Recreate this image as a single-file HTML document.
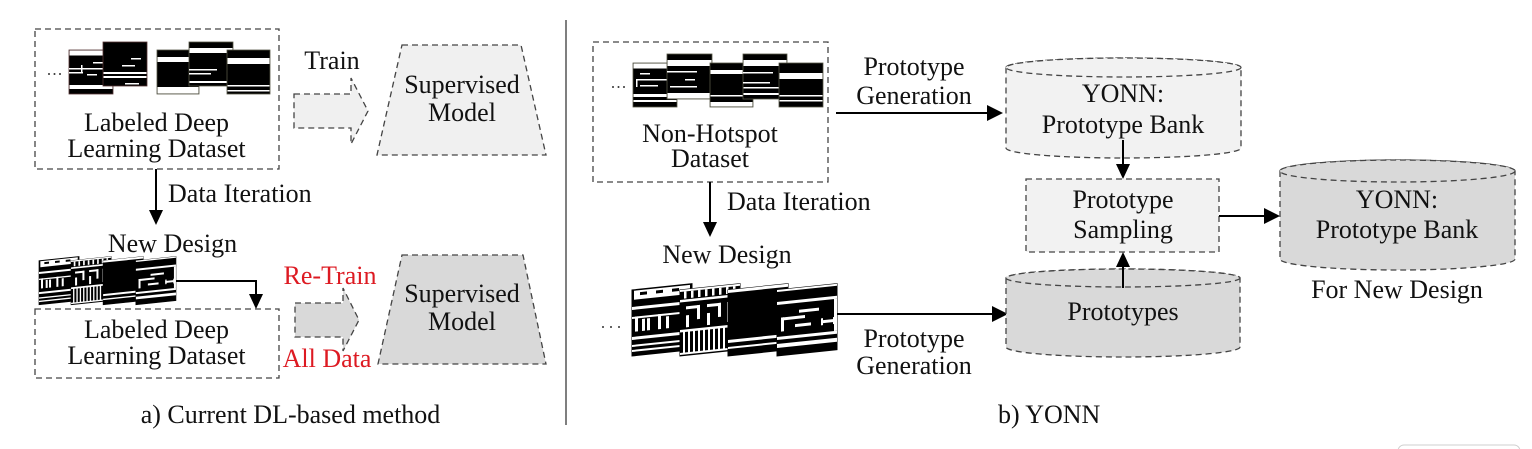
<!DOCTYPE html>
<html>
<head>
<meta charset="utf-8">
<style>
html,body{margin:0;padding:0;background:#fff;}
svg{display:block;}
text{font-family:"Liberation Serif","Times New Roman",serif;font-size:26px;fill:#111;}
.d{fill:none;stroke:#444;stroke-width:1.3;stroke-dasharray:6 4;}
.a{stroke:#000;stroke-width:2;fill:none;}
.h{fill:#000;}
.w{fill:#fff;}
.k{fill:#000;}
</style>
</head>
<body>
<svg width="1532" height="449" viewBox="0 0 1532 449" xmlns="http://www.w3.org/2000/svg">
<defs>
  <g id="nd">
    <!-- panel 1 -->
    <g transform="translate(0,7) skewY(-6)">
      <rect width="60" height="66" fill="#000" stroke="#000" stroke-width="1"/>
      <rect class="w" x="2" y="1" width="56" height="9"/>
      <rect class="k" x="8" y="3" width="7" height="3"/>
      <rect class="k" x="24" y="3" width="7" height="3"/>
      <rect class="k" x="40" y="3" width="7" height="3"/>
      <rect class="w" x="0" y="17" width="60" height="3"/>
      <rect class="w" x="0" y="27" width="60" height="2"/>
      <rect class="w" x="3" y="27" width="3" height="15"/>
      <rect class="w" x="10" y="30" width="3" height="12"/>
      <rect class="w" x="15" y="30" width="3" height="12"/>
      <rect class="w" x="26" y="27" width="3" height="15"/>
      <rect class="w" x="34" y="30" width="3" height="12"/>
      <rect class="w" x="48" y="27" width="3" height="15"/>
      <rect class="w" x="0" y="47" width="60" height="3"/>
      <rect class="w" x="0" y="55" width="60" height="2"/>
      <rect class="w" x="0" y="60" width="60" height="2"/>
    </g>
    <!-- panel 2 -->
    <g transform="translate(48,7) skewY(-6)">
      <rect width="60" height="66" fill="#000" stroke="#000" stroke-width="1"/>
      <rect class="w" x="0" y="0" width="60" height="2"/>
      <rect class="w" x="4" y="2" width="2.5" height="7"/>
      <rect class="w" x="11" y="2" width="2.5" height="7"/>
      <rect class="w" x="18" y="2" width="2.5" height="7"/>
      <rect class="w" x="25" y="2" width="2.5" height="7"/>
      <rect class="w" x="32" y="2" width="2.5" height="7"/>
      <rect class="w" x="39" y="2" width="2.5" height="7"/>
      <rect class="w" x="46" y="2" width="2.5" height="7"/>
      <rect class="w" x="53" y="2" width="2.5" height="7"/>
      <rect class="w" x="0" y="10" width="60" height="2.5"/>
      <rect class="w" x="6" y="17" width="14" height="3"/>
      <rect class="w" x="17" y="17" width="3" height="14"/>
      <rect class="w" x="6" y="26" width="3" height="12"/>
      <rect class="w" x="27" y="17" width="14" height="3"/>
      <rect class="w" x="38" y="17" width="3" height="14"/>
      <rect class="w" x="27" y="26" width="3" height="12"/>
      <rect class="w" x="47" y="17" width="3" height="20"/>
      <rect class="w" x="0" y="40" width="60" height="2.5"/>
      <rect class="w" x="3" y="42" width="2" height="22"/>
      <rect class="w" x="8" y="42" width="2" height="22"/>
      <rect class="w" x="13" y="42" width="2" height="22"/>
      <rect class="w" x="18" y="42" width="2" height="22"/>
      <rect class="w" x="23" y="42" width="2" height="22"/>
      <rect class="w" x="28" y="42" width="2" height="22"/>
      <rect class="w" x="33" y="42" width="2" height="22"/>
      <rect class="w" x="38" y="42" width="2" height="22"/>
      <rect class="w" x="43" y="42" width="2" height="22"/>
      <rect class="w" x="48" y="42" width="2" height="22"/>
      <rect class="w" x="53" y="42" width="2" height="22"/>
      <rect class="w" x="0" y="63" width="60" height="2"/>
    </g>
    <!-- panel 3 -->
    <g transform="translate(96,7) skewY(-6)">
      <rect width="60" height="66" fill="#000" stroke="#000" stroke-width="1"/>
      <rect class="w" x="0" y="0" width="60" height="3"/>
      <rect class="w" x="0" y="50" width="60" height="3"/>
      <rect class="w" x="0" y="57" width="60" height="2"/>
    </g>
    <!-- panel 4 -->
    <g transform="translate(145,7) skewY(-6)">
      <rect width="60" height="66" fill="#000" stroke="#000" stroke-width="1"/>
      <rect class="w" x="0" y="0" width="60" height="2"/>
      <rect class="w" x="0" y="12" width="60" height="3"/>
      <rect class="w" x="4" y="28" width="24" height="3"/>
      <rect class="w" x="4" y="28" width="3" height="14"/>
      <rect class="w" x="22" y="22" width="20" height="3"/>
      <rect class="w" x="18" y="36" width="16" height="3"/>
      <rect class="w" x="44" y="35" width="14" height="3"/>
      <rect class="w" x="44" y="33" width="2" height="7"/>
      <rect class="w" x="56" y="33" width="2" height="7"/>
      <rect class="w" x="0" y="47" width="60" height="3"/>
      <rect class="w" x="0" y="54" width="60" height="4"/>
      <rect class="w" x="57" y="15" width="3" height="32"/>
    </g>
  </g>
</defs>

<rect x="0" y="0" width="1532" height="449" fill="#fff"/>

<!-- ===== LEFT PANEL ===== -->
<rect class="d" x="35" y="29" width="244" height="140"/>
<circle cx="49" cy="74" r="1" fill="#333"/><circle cx="54.5" cy="74" r="1" fill="#333"/><circle cx="60" cy="74" r="1" fill="#333"/>

<!-- dataset images -->
<g>
  <rect x="69" y="50" width="44" height="44" fill="#000" stroke="#533" stroke-width="0.8"/>
  <rect class="w" x="69.5" y="50.5" width="43" height="5"/>
  <rect class="w" x="93" y="62" width="10" height="1.5"/>
  <rect class="w" x="69" y="68" width="34" height="1.5"/>
  <rect class="w" x="81" y="65" width="1.5" height="7"/>
  <rect class="w" x="69" y="72" width="14" height="1.5"/>
  <rect class="w" x="87" y="74" width="10" height="1.5"/>
  <rect class="w" x="69.5" y="85" width="43" height="4"/>

  <rect x="103" y="42" width="44" height="44" fill="#000" stroke="#533" stroke-width="0.8"/>
  <rect class="w" x="131" y="58" width="10" height="1.5"/>
  <rect class="w" x="122" y="65" width="13" height="1.5"/>
  <rect class="w" x="103.5" y="72" width="43" height="2"/>
  <rect class="w" x="103.5" y="76" width="43" height="2"/>
  <rect class="w" x="125" y="83" width="14" height="1.5"/>

  <rect x="157" y="50" width="42" height="44" fill="#000" stroke="#554" stroke-width="0.8"/>
  <rect class="w" x="157.5" y="57" width="41" height="5"/>
  <rect class="w" x="157.5" y="87" width="41" height="6.5"/>

  <rect x="189" y="42" width="44" height="44" fill="#000" stroke="#554" stroke-width="0.8"/>
  <rect class="w" x="189.5" y="48" width="43" height="5"/>
  <rect class="w" x="189" y="69" width="28" height="1.5"/>
  <rect class="w" x="189" y="73" width="22" height="1.5"/>
  <rect class="w" x="189.5" y="81" width="43" height="2"/>

  <rect x="227" y="50" width="43" height="44" fill="#000" stroke="#554" stroke-width="0.8"/>
  <rect class="w" x="227.5" y="58" width="42" height="6"/>
  <rect class="w" x="227.5" y="85" width="42" height="1.5"/>
  <rect class="w" x="227.5" y="90" width="42" height="1.5"/>
</g>

<text x="156.5" y="131" text-anchor="middle">Labeled Deep</text>
<text x="156.5" y="157" text-anchor="middle">Learning Dataset</text>

<!-- Train arrow -->
<text x="332" y="69" text-anchor="middle">Train</text>
<polygon points="294,94 351,94 351,78 368,111 351,144 351,128 294,128" fill="#f0f0f0" stroke="#444" stroke-width="1.3" stroke-dasharray="6 4"/>

<!-- Supervised model top -->
<polygon points="402,45 521,45 546,155 377,155" fill="#f0f0f0" stroke="#444" stroke-width="1.3" stroke-dasharray="6 4"/>
<text x="462" y="93" text-anchor="middle">Supervised</text>
<text x="462" y="121" text-anchor="middle">Model</text>

<!-- Data iteration left -->
<line class="a" x1="156" y1="169" x2="156" y2="211"/>
<polygon class="h" points="149,210 163,210 156,225"/>
<text x="168" y="202">Data Iteration</text>

<text x="172.5" y="252" text-anchor="middle">New Design</text>
<use href="#nd" transform="translate(39,256) scale(0.668)"/>

<line class="a" x1="176" y1="281" x2="257" y2="281"/>
<line class="a" x1="256" y1="280" x2="256" y2="295"/>
<polygon class="h" points="249,294 263,294 256,309"/>

<rect class="d" x="35" y="309" width="244" height="69"/>
<text x="156.5" y="338" text-anchor="middle">Labeled Deep</text>
<text x="156.5" y="364" text-anchor="middle">Learning Dataset</text>

<text x="330" y="284" text-anchor="middle" style="fill:#dd1a22">Re-Train</text>
<text x="327" y="367" text-anchor="middle" style="fill:#dd1a22">All Data</text>
<polygon points="295,303 343,303 343,288 359,320 343,351 343,337 295,337" fill="#d9d9d9" stroke="#444" stroke-width="1.3" stroke-dasharray="6 4"/>

<polygon points="402,255 523,255 546,364 378,364" fill="#d9d9d9" stroke="#444" stroke-width="1.3" stroke-dasharray="6 4"/>
<text x="462" y="302" text-anchor="middle">Supervised</text>
<text x="462" y="330" text-anchor="middle">Model</text>

<text x="290.5" y="423" text-anchor="middle">a) Current DL-based method</text>

<!-- divider -->
<line x1="566" y1="20" x2="566" y2="425" stroke="#555" stroke-width="1.5"/>

<!-- ===== RIGHT PANEL ===== -->
<rect class="d" x="593" y="42" width="235" height="140"/>
<circle cx="613" cy="87" r="1" fill="#333"/><circle cx="618.5" cy="87" r="1" fill="#333"/><circle cx="624" cy="87" r="1" fill="#333"/>

<g>
  <rect x="633" y="63" width="44" height="44" fill="#000" stroke="#554" stroke-width="0.8"/>
  <rect class="w" x="633.5" y="63.5" width="43" height="5"/>
  <rect class="w" x="640" y="73" width="10" height="1.5"/>
  <rect class="w" x="636" y="79" width="32" height="1.5"/>
  <rect class="w" x="636" y="79" width="1.5" height="8"/>
  <rect class="w" x="640" y="85" width="18" height="1.5"/>
  <rect class="w" x="633.5" y="94" width="43" height="3"/>
  <rect class="w" x="633.5" y="100" width="43" height="2"/>

  <rect x="667" y="54" width="45" height="45" fill="#000" stroke="#554" stroke-width="0.8"/>
  <rect class="w" x="667.5" y="60" width="44" height="6"/>
  <rect class="w" x="667" y="71" width="30" height="1.5"/>
  <rect class="w" x="685" y="79" width="10" height="1.5"/>
  <rect class="w" x="670" y="86" width="27" height="1.5"/>
  <rect class="w" x="667.5" y="93" width="44" height="5.5"/>

  <rect x="710" y="63" width="43" height="44" fill="#000" stroke="#554" stroke-width="0.8"/>
  <rect class="w" x="710.5" y="70" width="42" height="4"/>
  <rect class="w" x="710.5" y="95" width="42" height="1.5"/>
  <rect class="w" x="710.5" y="102" width="42" height="4.5"/>

  <rect x="743" y="54" width="44" height="45" fill="#000" stroke="#554" stroke-width="0.8"/>
  <rect class="w" x="743.5" y="60" width="43" height="6"/>
  <rect class="w" x="743" y="72" width="30" height="1.5"/>
  <rect class="w" x="743" y="82" width="27" height="1.5"/>
  <rect class="w" x="743.5" y="87" width="43" height="1.5"/>
  <rect class="w" x="743.5" y="93" width="43" height="2"/>

  <rect x="779" y="63" width="44" height="44" fill="#000" stroke="#554" stroke-width="0.8"/>
  <rect class="w" x="779.5" y="73" width="43" height="6"/>
  <rect class="w" x="779.5" y="95" width="43" height="1.5"/>
  <rect class="w" x="779.5" y="100" width="43" height="1.5"/>
</g>

<text x="710" y="142" text-anchor="middle">Non-Hotspot</text>
<text x="710" y="167" text-anchor="middle">Dataset</text>

<!-- prototype generation top -->
<line class="a" x1="836" y1="113" x2="988" y2="113"/>
<polygon class="h" points="987,105 987,121 1003,113"/>
<text x="914" y="75" text-anchor="middle">Prototype</text>
<text x="914" y="104" text-anchor="middle">Generation</text>

<!-- data iteration right -->
<line class="a" x1="710" y1="182" x2="710" y2="223"/>
<polygon class="h" points="703,222 717,222 710,237"/>
<text x="727" y="210">Data Iteration</text>

<text x="727" y="263" text-anchor="middle">New Design</text>
<circle cx="603" cy="327" r="1" fill="#333"/><circle cx="611" cy="327" r="1" fill="#333"/><circle cx="619" cy="327" r="1" fill="#333"/>
<use href="#nd" transform="translate(632,283)"/>

<line class="a" x1="837" y1="314" x2="993" y2="314"/>
<polygon class="h" points="992,306 992,322 1008,314"/>
<text x="914" y="347" text-anchor="middle">Prototype</text>
<text x="914" y="374" text-anchor="middle">Generation</text>

<!-- top cylinder -->
<path d="M1006,67.5 L1006,148 A117.5,10 0 0 0 1241,148 L1241,67.5 A117.5,9.5 0 0 0 1006,67.5 Z" fill="#f2f2f2" stroke="#444" stroke-width="1.3" stroke-dasharray="6 4"/>
<ellipse cx="1123.5" cy="67.5" rx="117.5" ry="9.5" fill="#f2f2f2" stroke="#444" stroke-width="1.3" stroke-dasharray="6 4"/>
<text x="1123" y="102" text-anchor="middle">YONN:</text>
<text x="1123" y="133" text-anchor="middle">Prototype Bank</text>

<line class="a" x1="1123" y1="140" x2="1123" y2="165"/>
<polygon class="h" points="1116,164 1130,164 1123,179"/>

<!-- sampling box -->
<rect x="1026" y="179" width="193" height="73" fill="#f2f2f2" stroke="#444" stroke-width="1.3" stroke-dasharray="6 4"/>
<text x="1123" y="208" text-anchor="middle">Prototype</text>
<text x="1123" y="238" text-anchor="middle">Sampling</text>

<!-- prototypes cylinder -->
<path d="M1006,278 L1006,347 A117,10 0 0 0 1240,347 L1240,278 A117,9 0 0 0 1006,278 Z" fill="#d9d9d9" stroke="#444" stroke-width="1.3" stroke-dasharray="6 4"/>
<ellipse cx="1123" cy="278" rx="117" ry="9" fill="#d9d9d9" stroke="#444" stroke-width="1.3" stroke-dasharray="6 4"/>
<text x="1123" y="320" text-anchor="middle">Prototypes</text>

<line class="a" x1="1123" y1="288" x2="1123" y2="264"/>
<polygon class="h" points="1116,267 1130,267 1123,252"/>

<!-- to right cylinder -->
<line class="a" x1="1219" y1="216" x2="1265" y2="216"/>
<polygon class="h" points="1264,208 1264,224 1280,216"/>

<!-- right cylinder -->
<path d="M1280,171 L1280,259 A117.5,11 0 0 0 1515,259 L1515,171 A117.5,11 0 0 0 1280,171 Z" fill="#d9d9d9" stroke="#444" stroke-width="1.3" stroke-dasharray="6 4"/>
<ellipse cx="1397.5" cy="171" rx="117.5" ry="11" fill="#d9d9d9" stroke="#444" stroke-width="1.3" stroke-dasharray="6 4"/>
<text x="1397" y="208" text-anchor="middle">YONN:</text>
<text x="1397" y="238" text-anchor="middle">Prototype Bank</text>
<text x="1397" y="298" text-anchor="middle">For New Design</text>

<text x="998" y="423">b) YONN</text>

<!-- bottom-right artifact -->
<rect x="1398" y="445" width="122" height="20" rx="6" fill="none" stroke="#cfcfcf" stroke-width="1"/>
</svg>
</body>
</html>
